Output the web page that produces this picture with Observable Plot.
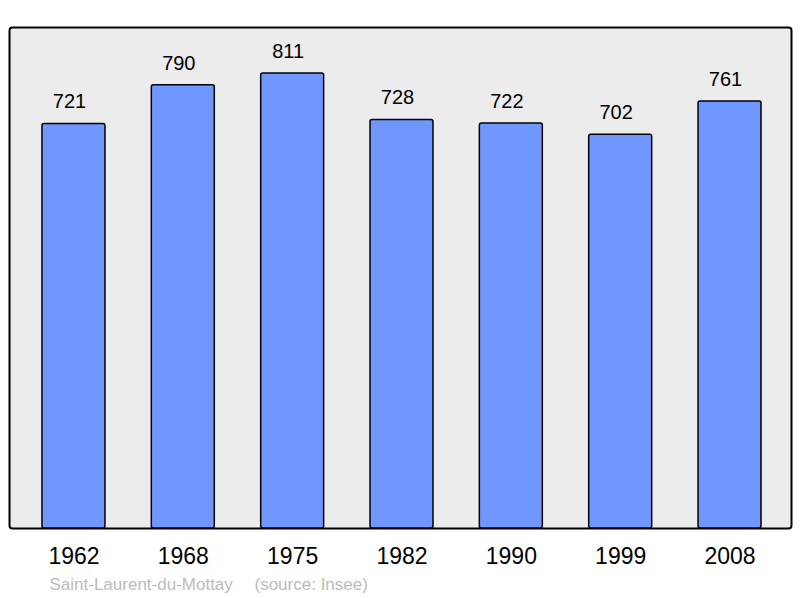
<!DOCTYPE html>
<html><head><meta charset="utf-8">
<script src="https://cdn.jsdelivr.net/npm/d3@7"></script>
<script src="https://cdn.jsdelivr.net/npm/@observablehq/plot@0.6"></script>
<style>body{margin:0;background:#fff;} svg{display:block;font-family:"Liberation Sans",Arial,sans-serif;}</style>
</head><body><div id="chart"></div>
<script>
const years = ["1962","1968","1975","1982","1990","1999","2008"];
const population = [721,790,811,728,722,702,761];
const place = "Saint-Laurent-du-Mottay";
const source = "(source: Insee)";
const data = years.map((y,i)=>({year:y, pop:population[i]}));

const chart = Plot.plot({
  width: 800, height: 598,
  marginLeft: 9, marginRight: 9, marginTop: 27, marginBottom: 70,
  style: {fontFamily: '"Liberation Sans",Arial,sans-serif', background: "#fff"},
  x: {domain: years, range: [18.8, 784.2], paddingInner: 0.424, paddingOuter: 0.212, round: false, label: null},
  y: {domain: [0, 893], axis: null},
  marks: [
    Plot.frame({fill: "#ececec", stroke: "#000", strokeWidth: 2, rx: 3}),
    Plot.barY(data, {x: "year", y: "pop", fill: "#7096ff", stroke: "#000", strokeWidth: 1.5, rx: 2, inset: 0}),
    Plot.text(data, {x: "year", y: "pop", text: d => String(d.pop), dx: -4.5, dy: -22, fontSize: 20, fill: "#000", lineAnchor: "middle"}),
    Plot.axisX({tickSize: 0, tickPadding: 19, fontSize: 23, fill: "#000", label: null}),
    Plot.text([place], {frameAnchor: "bottom-left", dx: 40, dy: 56, text: d => d, fontSize: 17, fill: "#bbbbbb", textAnchor: "start", lineAnchor: "middle"}),
    Plot.text([source], {frameAnchor: "bottom-left", dx: 245, dy: 56, text: d => d, fontSize: 17, fill: "#bbbbbb", textAnchor: "start", lineAnchor: "middle"})
  ]
});
document.getElementById("chart").append(chart);
</script></body></html>
